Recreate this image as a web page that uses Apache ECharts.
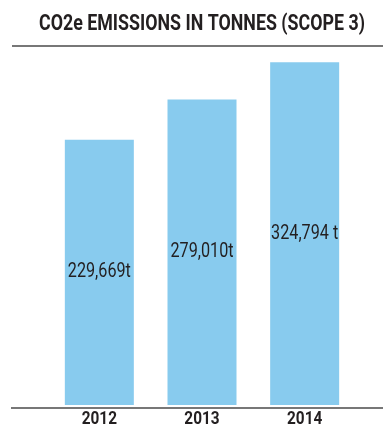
<!DOCTYPE html>
<html>
<head>
<meta charset="utf-8">
<script src="https://cdn.jsdelivr.net/npm/echarts@6/dist/echarts.min.js"></script>
<style>
html,body{margin:0;padding:0;background:#fff;}
#chart{width:383px;height:429px;}
</style>
</head>
<body>
<div id="chart"></div>
<script>
var years = ['2012', '2013', '2014'];
var emissions = [229669, 279010, 324794];
var labelTexts = ['229,669t', '279,010t', '324,794 t'];
var titleText = 'CO2e EMISSIONS IN TONNES (SCOPE 3)';
var yMin = -95000, yMax = 325000;

// emulate a condensed face (no condensed fonts installed): squeeze Roboto text horizontally
var CONDENSE = 0.81;
(function () {
  var proto = CanvasRenderingContext2D.prototype;
  var orig = proto.fillText;
  proto.fillText = function (text, x, y, maxW) {
    if (this.font && this.font.indexOf('Roboto') >= 0) {
      this.save();
      this.translate(x, y);
      this.scale(CONDENSE, 1);
      orig.call(this, text, 0, 0);
      this.restore();
    } else {
      orig.apply(this, arguments);
    }
  };
})();

var FONT = 'Roboto';
var chart = echarts.init(document.getElementById('chart'), null, {renderer: 'canvas'});
chart.setOption({
  animation: false,
  backgroundColor: '#ffffff',
  title: {
    text: titleText,
    left: 34,
    top: 8,
    textStyle: {fontFamily: FONT, fontWeight: 'bold', fontSize: 22, color: '#231f20'}
  },
  grid: {left: 48, right: 27, top: 62, bottom: 21},
  xAxis: {
    type: 'category',
    data: years,
    axisLine: {show: false},
    axisTick: {show: false},
    axisLabel: {margin: 5, fontFamily: FONT, fontWeight: 'bold', fontSize: 19, color: '#231f20'}
  },
  yAxis: {type: 'value', min: yMin, max: yMax, show: false, splitLine: {show: false}},
  series: [{
    type: 'custom',
    data: emissions.map(function (v, i) { return [i, v]; }),
    renderItem: function (params, api) {
      var top = api.coord([api.value(0), api.value(1)]);
      var bottom = api.coord([api.value(0), yMin]);
      var w = 69;
      return {
        type: 'rect',
        shape: {x: top[0] - w / 2, y: top[1], width: w, height: bottom[1] - top[1]},
        style: {fill: '#88cbee', stroke: null, lineWidth: 0},
        textContent: {style: {text: labelTexts[params.dataIndex], fontFamily: FONT, fontSize: 20, fill: '#231f20'}},
        textConfig: {position: 'inside'}
      };
    }
  }],
  graphic: [
    {type: 'line', shape: {x1: 12, y1: 46, x2: 383, y2: 46}, style: {stroke: '#4a4a4a', lineWidth: 1.5}},
    {type: 'line', shape: {x1: 11, y1: 408, x2: 383, y2: 408}, style: {stroke: '#4a4a4a', lineWidth: 1.5}, z: 10}
  ]
});
</script>
</body>
</html>
